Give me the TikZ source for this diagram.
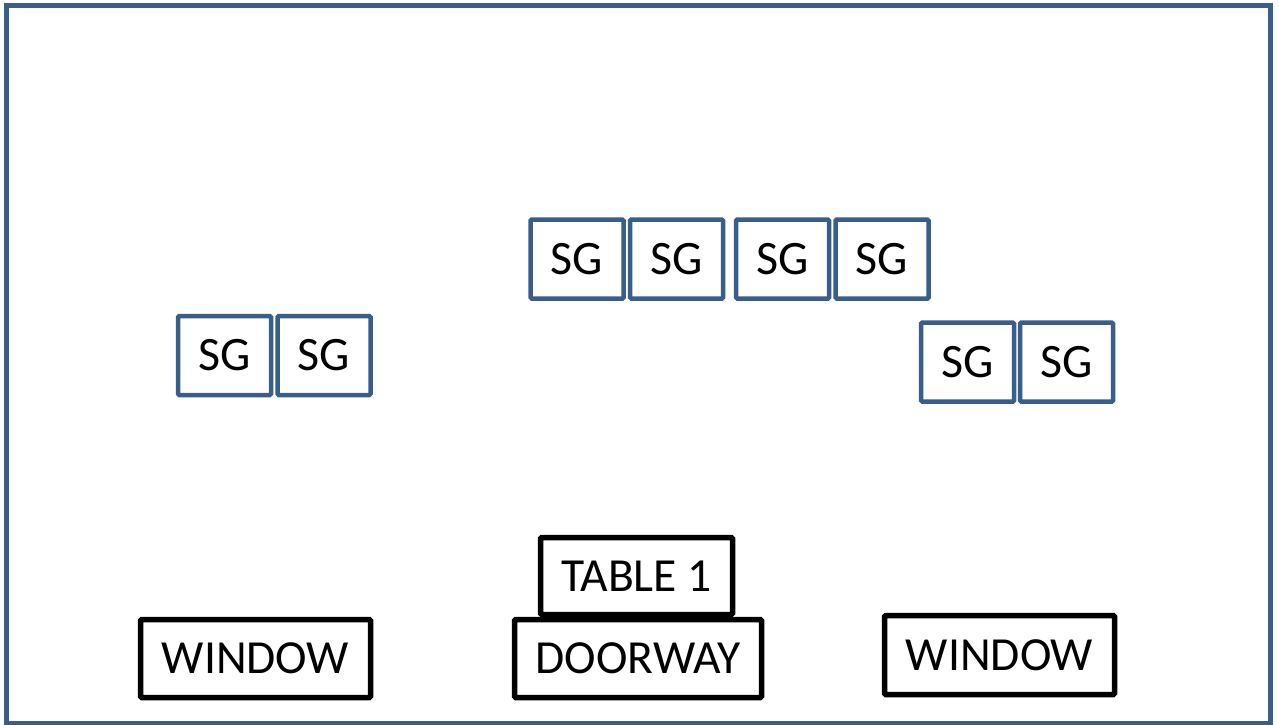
\documentclass[tikz,border=0pt]{standalone}
\usepackage{fontspec}
\setmainfont{Carlito}
\definecolor{frameblue}{RGB}{58,94,140}
\tikzset{
  sgbox/.style={draw=frameblue, line width=4.5pt, rounded corners=1.2pt, minimum width=93pt, minimum height=79pt, inner sep=0pt, font=\fontsize{48}{56}\selectfont},
  blackbox/.style={draw=black, line width=5.5pt, rounded corners=1.2pt, minimum height=78pt, inner sep=0pt, font=\fontsize{47.5}{56}\selectfont}
}
\begin{document}
\begin{tikzpicture}[x=1pt,y=-1pt]
\useasboundingbox (0,0) rectangle (1279,724);
\draw[frameblue, line width=5pt] (6,5) rectangle (1270,723.5);
% top row
\node[sgbox] (t1) at (577,259) {SG};
\node[sgbox] (t2) at (676.5,259) {SG};
\node[sgbox] (t3) at (782.5,259) {SG};
\node[sgbox] (t4) at (882,259) {SG};
% left pair
\node[sgbox] (l1) at (224.5,355.5) {SG};
\node[sgbox] (l2) at (324,355.5) {SG};
% right pair
\node[sgbox] (r1) at (967.5,362) {SG};
\node[sgbox] (r2) at (1066.5,362) {SG};
% bottom
\node[blackbox, minimum width=230pt] (w1) at (255.5,658.5) {WINDOW};
\node[blackbox, minimum width=247pt] (door) at (638,658.5) {DOORWAY};
\node[blackbox, minimum width=192pt, minimum height=77pt] (table) at (636.5,576) {TABLE 1};
\node[blackbox, minimum width=230pt, minimum height=79pt] (w2) at (999.5,655) {WINDOW};
\end{tikzpicture}
\end{document}
